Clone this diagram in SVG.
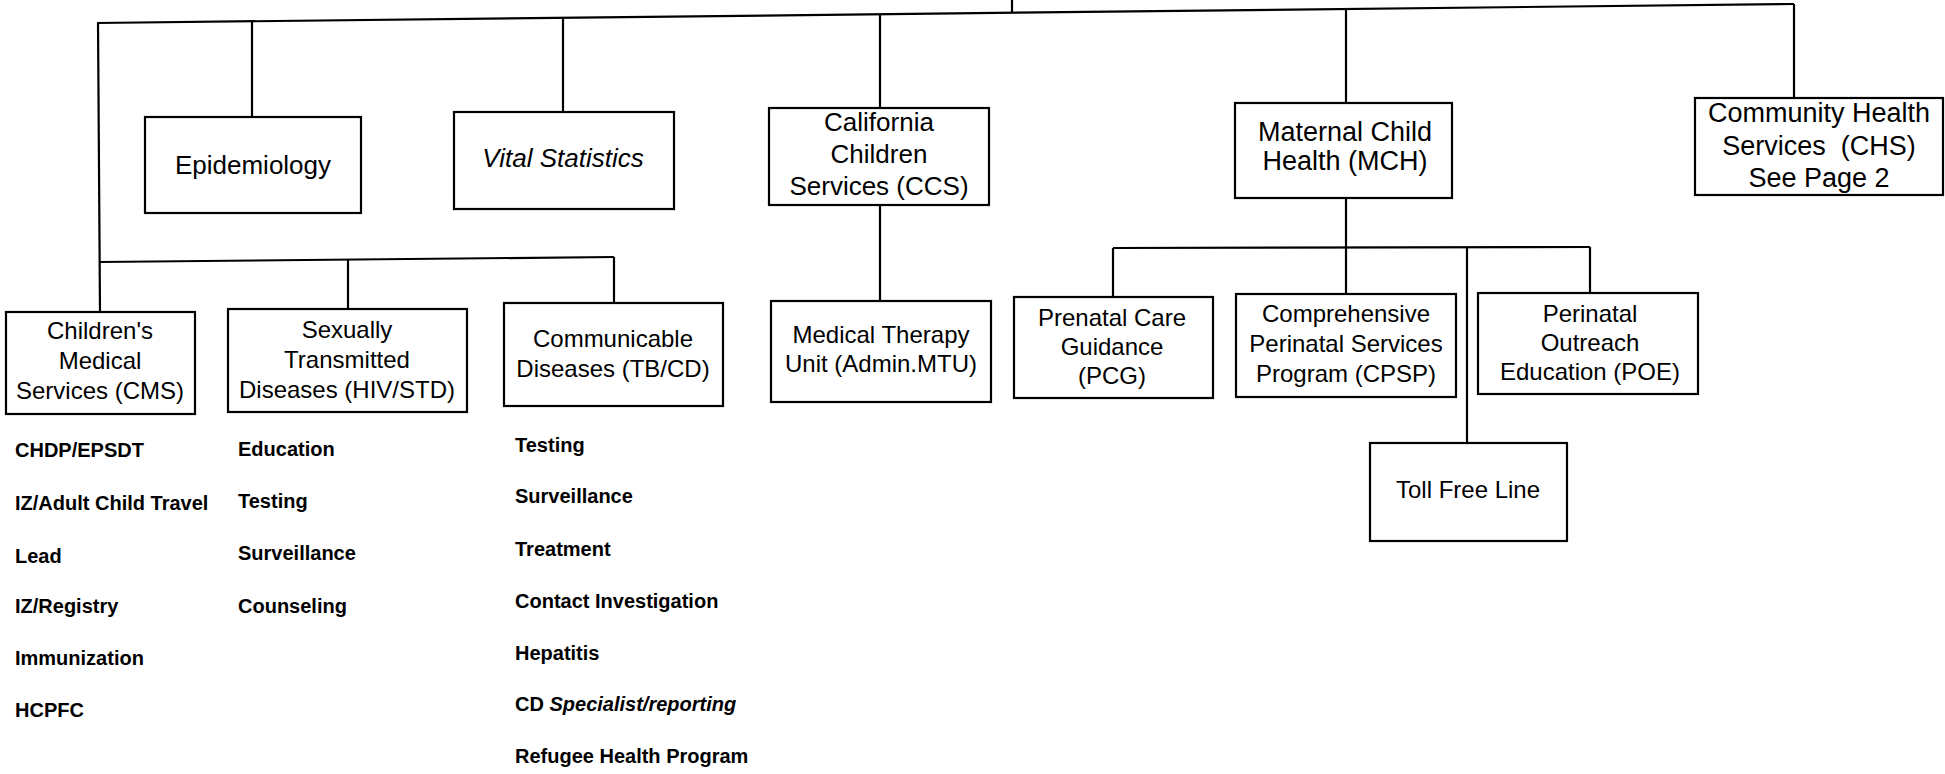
<svg xmlns="http://www.w3.org/2000/svg" width="1945" height="774" viewBox="0 0 1945 774">
<style>
.box{fill:#fff;stroke:#000;stroke-width:2.2}
.ln{stroke:#000;stroke-width:2.2;fill:none}
.t{font-family:"Liberation Sans",Arial,Helvetica,sans-serif;fill:#000;text-anchor:middle}
.s24{font-size:24px}
.s26{font-size:26px}
.s27{font-size:27px}
.li{font-family:"Liberation Sans",Arial,Helvetica,sans-serif;font-size:20px;font-weight:bold;fill:#000}
.it{font-style:italic}
</style>
<rect x="0" y="0" width="1945" height="774" fill="#fff"/>
<g id="connectors">
<path class="ln" d="M97,23 L1794,4"/>
<path class="ln" d="M1012,0 L1012,13"/>
<path class="ln" d="M98,23 L100,312"/>
<path class="ln" d="M252,21 L252,117"/>
<path class="ln" d="M563,17.5 L563,112"/>
<path class="ln" d="M880,14 L880,108"/>
<path class="ln" d="M880,205 L880,301"/>
<path class="ln" d="M1346,9 L1346,103"/>
<path class="ln" d="M1346,198 L1346,294"/>
<path class="ln" d="M1794,4 L1794,98"/>
<path class="ln" d="M100,262 L614,257"/>
<path class="ln" d="M348,260 L348,309"/>
<path class="ln" d="M614,257 L614,303"/>
<path class="ln" d="M1113,248 L1590,247"/>
<path class="ln" d="M1113,248 L1113,297"/>
<path class="ln" d="M1467,247 L1467,443"/>
<path class="ln" d="M1590,247 L1590,293"/>
</g>
<g id="epidemiology">
<rect class="box" x="145" y="117" width="216" height="96"/>
<text class="t s26" x="253" y="174">Epidemiology</text>
</g>
<g id="vital-statistics">
<rect class="box" x="454" y="112" width="220" height="97"/>
<text class="t s26 it" x="563" y="167">Vital Statistics</text>
</g>
<g id="ccs">
<rect class="box" x="769" y="108" width="220" height="97"/>
<text class="t s26" x="879"><tspan x="879" y="131">California</tspan><tspan x="879" y="163">Children</tspan><tspan x="879" y="195">Services (CCS)</tspan></text>
</g>
<g id="mtu">
<rect class="box" x="771" y="301" width="220" height="101"/>
<text class="t s24" x="881"><tspan x="881" y="343">Medical Therapy</tspan><tspan x="881" y="372">Unit (Admin.MTU)</tspan></text>
</g>
<g id="mch">
<rect class="box" x="1235" y="103" width="217" height="95"/>
<text class="t s27" x="1345"><tspan x="1345" y="141">Maternal Child</tspan><tspan x="1345" y="170">Health (MCH)</tspan></text>
</g>
<g id="chs">
<rect class="box" x="1695" y="98" width="248" height="97"/>
<text class="t s27" x="1819"><tspan x="1819" y="122">Community Health</tspan><tspan x="1819" y="155">Services&#160; (CHS)</tspan><tspan x="1819" y="187">See Page 2</tspan></text>
</g>
<g id="cms">
<rect class="box" x="6" y="312" width="189" height="102"/>
<text class="t s24" x="100"><tspan x="100" y="339">Children's</tspan><tspan x="100" y="369">Medical</tspan><tspan x="100" y="399">Services (CMS)</tspan></text>
</g>
<g id="std">
<rect class="box" x="228" y="309" width="239" height="103"/>
<text class="t s24" x="347"><tspan x="347" y="338">Sexually</tspan><tspan x="347" y="368">Transmitted</tspan><tspan x="347" y="398">Diseases (HIV/STD)</tspan></text>
</g>
<g id="cd">
<rect class="box" x="504" y="303" width="219" height="103"/>
<text class="t s24" x="613"><tspan x="613" y="347">Communicable</tspan><tspan x="613" y="377">Diseases (TB/CD)</tspan></text>
</g>
<g id="pcg">
<rect class="box" x="1014" y="297" width="199" height="101"/>
<text class="t s24" x="1112"><tspan x="1112" y="326">Prenatal Care</tspan><tspan x="1112" y="355">Guidance</tspan><tspan x="1112" y="384">(PCG)</tspan></text>
</g>
<g id="cpsp">
<rect class="box" x="1236" y="294" width="220" height="103"/>
<text class="t s24" x="1346"><tspan x="1346" y="322">Comprehensive</tspan><tspan x="1346" y="352">Perinatal Services</tspan><tspan x="1346" y="382">Program (CPSP)</tspan></text>
</g>
<g id="poe">
<rect class="box" x="1478" y="293" width="220" height="101"/>
<text class="t s24" x="1590"><tspan x="1590" y="322">Perinatal</tspan><tspan x="1590" y="351">Outreach</tspan><tspan x="1590" y="380">Education (POE)</tspan></text>
</g>
<g id="toll-free">
<rect class="box" x="1370" y="443" width="197" height="98"/>
<text class="t s24" x="1468" y="498">Toll Free Line</text>
</g>
<g id="cms-list">
<text class="li" x="15" y="457">CHDP/EPSDT</text>
<text class="li" x="15" y="510">IZ/Adult Child Travel</text>
<text class="li" x="15" y="563">Lead</text>
<text class="li" x="15" y="613">IZ/Registry</text>
<text class="li" x="15" y="665">Immunization</text>
<text class="li" x="15" y="717">HCPFC</text>
</g>
<g id="std-list">
<text class="li" x="238" y="456">Education</text>
<text class="li" x="238" y="508">Testing</text>
<text class="li" x="238" y="560">Surveillance</text>
<text class="li" x="238" y="613">Counseling</text>
</g>
<g id="cd-list">
<text class="li" x="515" y="452">Testing</text>
<text class="li" x="515" y="503">Surveillance</text>
<text class="li" x="515" y="556">Treatment</text>
<text class="li" x="515" y="608">Contact Investigation</text>
<text class="li" x="515" y="660">Hepatitis</text>
<text class="li" x="515" y="711">CD <tspan class="it">Specialist/reporting</tspan></text>
<text class="li" x="515" y="763">Refugee Health Program</text>
</g>
</svg>
